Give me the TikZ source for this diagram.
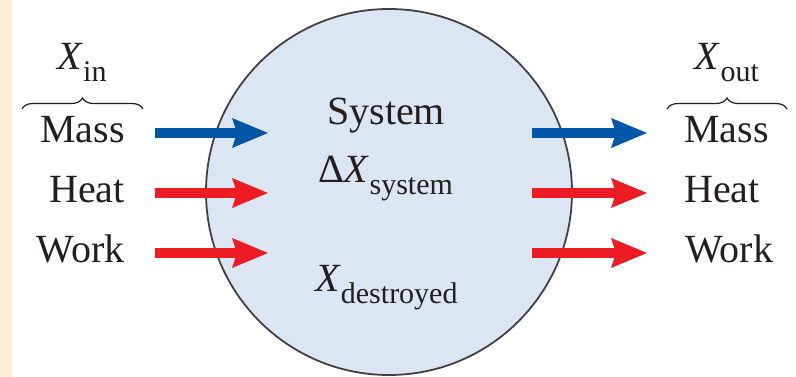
\documentclass[tikz,border=0pt]{standalone}
\usepackage{fontspec}
\setmainfont{Liberation Serif}
\usetikzlibrary{arrows.meta,decorations.pathreplacing}
\definecolor{cream}{HTML}{FCEFD8}
\definecolor{sysfill}{HTML}{DCE6F2}
\definecolor{massblue}{HTML}{0057A8}
\definecolor{heatred}{HTML}{ED1C24}
\definecolor{ink}{HTML}{231F20}
\newcommand{\Xsub}[1]{\textit{X}\raisebox{-12pt}{\fontsize{30}{32}\selectfont #1}}
\begin{document}
\begin{tikzpicture}[x=1pt,y=1pt,
  lbl/.style={font=\fontsize{40}{48}\selectfont, text=ink, inner sep=0pt},
  flow/.style={line width=10pt, -{Stealth[length=36pt,width=30pt,inset=5pt,line width=0pt]}},
  brc/.style={draw=ink, line width=1.2pt, decorate, decoration={brace, amplitude=11pt}}]
\fill[white] (0,0) rectangle (796,377);
\fill[cream] (0,0) rectangle (12,377);
\useasboundingbox (0,0) rectangle (796,377);
\node[circle, draw=ink!85, line width=1.8pt, fill=sysfill, minimum size=366pt, inner sep=0pt] (sys) at (389,185) {};
% inputs
\node[lbl, anchor=base east] (massin) at (125,234) {Mass};
\node[lbl, anchor=base east] (heatin) at (125,174) {Heat};
\node[lbl, anchor=base east] (workin) at (125,114) {Work};
\node[lbl, anchor=base] (xin) at (82,307) {\Xsub{in}};
\coordinate (bl0) at (22,268);
\coordinate (bl1) at (143,268);
\draw[brc] (bl0) -- (bl1);
% outputs
\node[lbl, anchor=base west] (massout) at (684,234) {Mass};
\node[lbl, anchor=base west] (heatout) at (684,174) {Heat};
\node[lbl, anchor=base west] (workout) at (685,114) {Work};
\node[lbl, anchor=base] (xout) at (727,307) {\Xsub{out}};
\coordinate (br0) at (667,268);
\coordinate (br1) at (787,268);
\draw[brc] (br0) -- (br1);
% system texts
\node[lbl, anchor=base west] (systxt) at (327,252) {System};
\node[lbl, anchor=base west] (dx) at (318,194) {Δ\Xsub{system}};
\node[lbl, anchor=base west] (xd) at (315,85) {\Xsub{destroyed}};
% arrows in
\coordinate (mi0) at (155,244); \coordinate (mi1) at (268,244);
\coordinate (hi0) at (155,184); \coordinate (hi1) at (268,184);
\coordinate (wi0) at (155,124); \coordinate (wi1) at (268,124);
\draw[flow, massblue] (mi0) -- (mi1);
\draw[flow, heatred] (hi0) -- (hi1);
\draw[flow, heatred] (wi0) -- (wi1);
% arrows out
\coordinate (mo0) at (532,244); \coordinate (mo1) at (647,244);
\coordinate (ho0) at (532,184); \coordinate (ho1) at (647,184);
\coordinate (wo0) at (532,124); \coordinate (wo1) at (647,124);
\draw[flow, massblue] (mo0) -- (mo1);
\draw[flow, heatred] (ho0) -- (ho1);
\draw[flow, heatred] (wo0) -- (wo1);
\end{tikzpicture}
\end{document}
